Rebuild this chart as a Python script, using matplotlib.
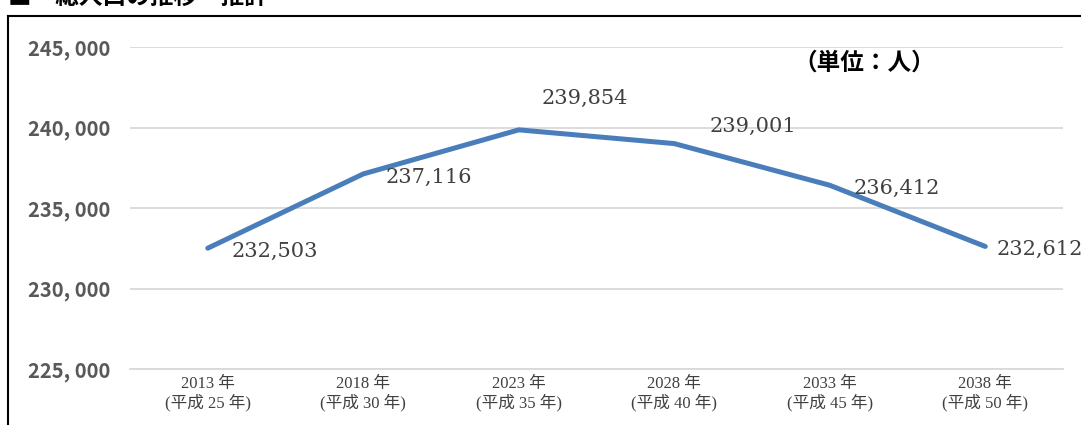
import matplotlib.pyplot as plt
from matplotlib.lines import Line2D

years = ["2013 年\n(平成 25 年)", "2018 年\n(平成 30 年)", "2023 年\n(平成 35 年)",
         "2028 年\n(平成 40 年)", "2033 年\n(平成 45 年)", "2038 年\n(平成 50 年)"]
population = [232503, 237116, 239854, 239001, 236412, 232612]
yticks = [225000, 230000, 235000, 240000, 245000]

# label offsets in pixels (left edge, vertical centre)
label_off = [(24, -3), (22, -3), (23, 31), (35, 17), (24, -3), (11, -3)]

serif = ['Liberation Serif', 'Noto Sans CJK JP']
gothic = ['Noto Sans CJK JP', 'DejaVu Sans']

fig = plt.figure(figsize=(10.81, 4.25), dpi=100)
ax = fig.add_axes([130/1081, 1-369/425, (1063-130)/1081, (369-47)/425])

x = range(len(population))
ax.plot(x, population, color='#4a7ebb', linewidth=3.6, solid_capstyle='round', zorder=3)

for i, v in enumerate(population):
    ax.annotate(f"{v:,}", (i, v), xytext=label_off[i], textcoords='offset pixels',
                ha='left', va='center', fontsize=15, color='#404040', family='DejaVu Serif',
                annotation_clip=False)

ax.set_xlim(-0.5, 5.5)
ax.set_ylim(225000, 245000)
ax.set_yticks(yticks)
ax.set_yticklabels([f"{t:,}".replace(",", ", ") for t in yticks], family=gothic,
                   fontsize=14.5, fontweight='bold', color='#595959')
ax.set_xticks(list(x))
ax.set_xticklabels(years, family=serif, fontsize=12, color='#404040', linespacing=1.15)
ax.tick_params(axis='y', length=0, pad=14)
ax.tick_params(axis='x', length=0, pad=5)
ax.grid(axis='y', color='#d9d9d9', linewidth=1.3)
ax.set_axisbelow(True)
for s in ax.spines.values():
    s.set_visible(False)
ax.spines['bottom'].set_visible(True)
ax.spines['bottom'].set_color('#d9d9d9')
ax.spines['bottom'].set_linewidth(1.3)

fig.text(793/1081, 1-63/425, "（単位：人）", family=gothic, fontsize=17,
         fontweight='bold', ha='left', va='center', color='black')

# outer frame (partially visible)
fig.add_artist(Line2D([8/1081, 8/1081], [0, 1-16/425], color='black', linewidth=1.5))
fig.add_artist(Line2D([8/1081, 1], [1-16/425, 1-16/425], color='black', linewidth=1.5))

# partially cut title, as in the source image
fig.text(8/1081, 1-9/425, "■　総人口の推移・推計", family=gothic, fontsize=17,
         fontweight='bold', ha='left', va='bottom', color='black')

fig.savefig("out.png", dpi=100)
